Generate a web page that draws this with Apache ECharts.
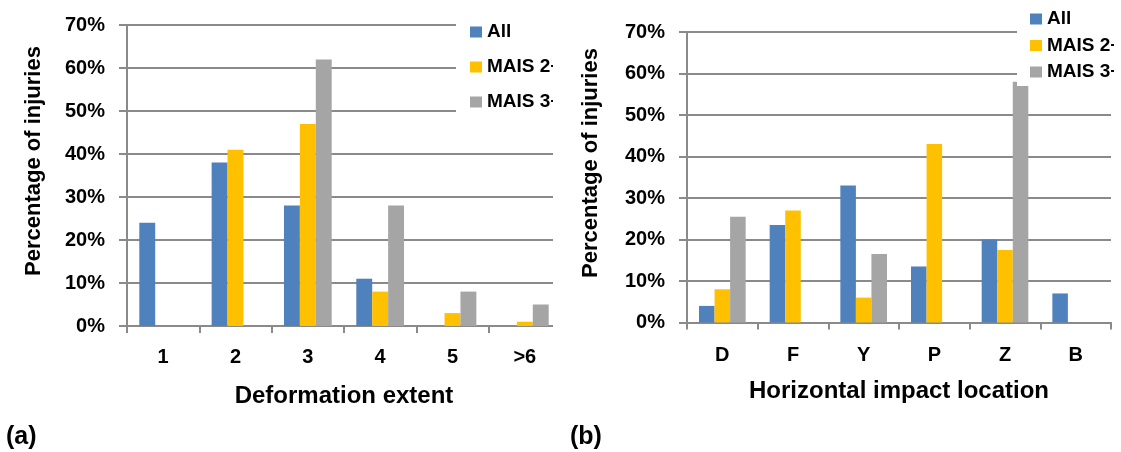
<!DOCTYPE html>
<html>
<head>
<meta charset="utf-8">
<script src="https://cdn.jsdelivr.net/npm/echarts@6/dist/echarts.min.js"></script>
<style>
  html, body { margin: 0; padding: 0; background: #fff; width: 1121px; height: 452px; overflow: hidden; }
  #wrapA { position: absolute; left: 0; top: 0; width: 553px; height: 452px; overflow: hidden; }
  #chartA { width: 600px; height: 452px; }
  #wrapB { position: absolute; left: 553px; top: 0; width: 561px; height: 452px; overflow: hidden; }
  #chartB { width: 600px; height: 452px; }
</style>
</head>
<body>
<div id="wrapA"><div id="chartA"></div></div>
<div id="wrapB"><div id="chartB"></div></div>
<script>
// Series names and colours
const seriesNames = ['All', 'MAIS 2+', 'MAIS 3+'];
const seriesColors = ['#4F81BD', '#FFC000', '#A5A5A5'];

// (a) Deformation extent, percentage of injuries
const extentCategories = ['1', '2', '3', '4', '5', '>6'];
const extentAll   = [24, 38, 28, 11, 0, 0];
const extentMais2 = [0, 41, 47, 8, 3, 1];
const extentMais3 = [0, 0, 62, 28, 8, 5];

// (b) Horizontal impact location, percentage of injuries
const locationCategories = ['D', 'F', 'Y', 'P', 'Z', 'B'];
const locationAll   = [4, 23.5, 33, 13.5, 20, 7];
const locationMais2 = [8, 27, 6, 43, 17.5, 0];
const locationMais3 = [25.5, 0, 16.5, 0, 58, 0];

// Percentage axis ticks
const yMin = 0, yMax = 70, yStep = 10;

const FONT = '"Liberation Sans", Arial, sans-serif';
const AXIS_GRAY = '#8a8a8a';

function buildOption(cfg) {
  const lineStyle = { color: AXIS_GRAY, width: 2 };
  return {
    animation: false,
    textStyle: { fontFamily: FONT },
    grid: cfg.grid,
    legend: {
      orient: 'vertical',
      left: cfg.legend.left,
      top: cfg.legend.top,
      padding: cfg.legend.padding,
      itemGap: cfg.legend.gap,
      itemWidth: 12,
      itemHeight: 11,
      icon: 'rect',
      selectedMode: false,
      backgroundColor: '#fff',
      textStyle: { fontFamily: FONT, fontSize: 19, fontWeight: 'bold', color: '#000', lineHeight: 20 },
      data: seriesNames
    },
    xAxis: {
      type: 'category',
      data: cfg.categories,
      boundaryGap: true,
      axisLine: { show: true, lineStyle: lineStyle },
      axisTick: { show: true, length: 7, lineStyle: lineStyle },
      axisLabel: { margin: cfg.xLabelMargin, fontFamily: FONT, fontSize: 20, fontWeight: 'bold', color: '#000' },
      name: cfg.xName,
      nameLocation: 'middle',
      nameGap: cfg.xNameGap,
      nameTextStyle: { fontFamily: FONT, fontSize: 24, fontWeight: 'bold', color: '#000' }
    },
    yAxis: {
      type: 'value',
      min: yMin,
      max: yMax,
      interval: yStep,
      axisLine: { show: true, lineStyle: lineStyle },
      axisTick: { show: true, length: 8, lineStyle: lineStyle },
      splitLine: { show: true, lineStyle: lineStyle },
      axisLabel: { margin: 22, formatter: '{value}%', fontFamily: FONT, fontSize: 20, fontWeight: 'bold', color: '#000' }
    },
    series: cfg.values.map((vals, i) => ({
      type: 'bar',
      name: seriesNames[i],
      data: vals,
      barGap: '0%',
      barCategoryGap: '34%',
      itemStyle: { color: seriesColors[i] }
    })),
    graphic: [
      {
        type: 'text',
        x: cfg.yTitle.x,
        y: cfg.yTitle.y,
        rotation: Math.PI / 2,
        style: {
          text: 'Percentage of injuries',
          font: 'bold 22px ' + FONT,
          fill: '#000',
          align: 'center',
          verticalAlign: 'middle'
        }
      },
      {
        type: 'text',
        x: cfg.panel.x,
        y: cfg.panel.y,
        style: {
          text: cfg.panel.text,
          font: 'bold 25px ' + FONT,
          fill: '#000',
          align: 'left',
          verticalAlign: 'middle'
        }
      }
    ]
  };
}

const chartA = echarts.init(document.getElementById('chartA'), null, { renderer: 'canvas' });
chartA.setOption(buildOption({
  categories: extentCategories,
  values: [extentAll, extentMais2, extentMais3],
  grid: { left: 127, top: 25, width: 434, height: 301 },
  legend: { left: 456, top: 14, padding: [8, 20, 12, 14], gap: 15 },
  xName: 'Deformation extent',
  xNameGap: 58,
  xLabelMargin: 21,
  yTitle: { x: 34, y: 161 },
  panel: { x: 6, y: 437, text: '(a)' }
}));

const chartB = echarts.init(document.getElementById('chartB'), null, { renderer: 'canvas' });
chartB.setOption(buildOption({
  categories: locationCategories,
  values: [locationAll, locationMais2, locationMais3],
  grid: { left: 134, top: 32, width: 424, height: 290.5 },
  legend: { left: 464, top: 5, padding: [4, 20, 4, 13], gap: 6.5 },
  xName: 'Horizontal impact location',
  xNameGap: 57,
  xLabelMargin: 23,
  yTitle: { x: 38, y: 163 },
  panel: { x: 17, y: 437, text: '(b)' }
}));
</script>
</body>
</html>
